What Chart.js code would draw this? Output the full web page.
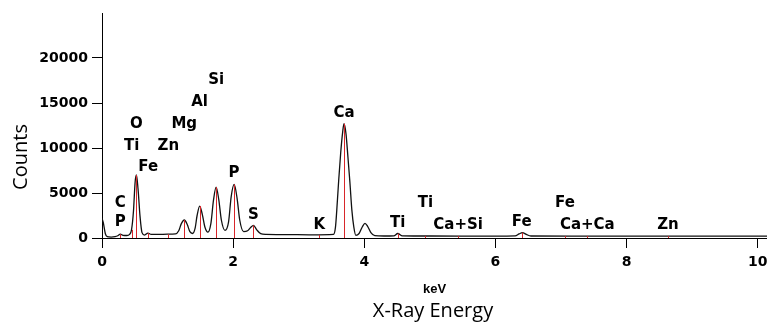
<!DOCTYPE html>
<html>
<head>
<meta charset="utf-8">
<script src="https://cdn.jsdelivr.net/npm/chart.js@4"></script>
<style>
  body { margin: 0; background: #fff; }
  #wrap { width: 767px; height: 331px; }
</style>
</head>
<body>
<div id="wrap"><canvas id="myChart-eds" width="767" height="331"></canvas></div>
<script>
//========== spectrum (keV / counts)
var energy = [0.00, 0.02, 0.05, 0.08, 0.14, 0.20, 0.24, 0.28, 0.32, 0.38,
    0.42, 0.45, 0.48, 0.505, 0.525, 0.55, 0.58, 0.61, 0.65, 0.70,
    0.75, 0.85, 1.00, 1.12, 1.17, 1.21, 1.255, 1.30, 1.34, 1.38,
    1.42, 1.45, 1.49, 1.53, 1.57, 1.615, 1.66, 1.70, 1.74, 1.78,
    1.82, 1.875, 1.93, 1.97, 2.015, 2.06, 2.10, 2.16, 2.22, 2.27,
    2.31, 2.36, 2.42, 2.50, 2.80, 3.20, 3.53, 3.56, 3.58, 3.61,
    3.64, 3.67, 3.69, 3.72, 3.75, 3.78, 3.81, 3.84, 3.87, 3.92,
    3.97, 4.01, 4.05, 4.10, 4.16, 4.30, 4.45, 4.51, 4.58, 5.00,
    6.00, 6.30, 6.36, 6.41, 6.47, 6.54, 7.50, 8.50, 10.15];
var counts = [2200, 1700, 500, 150, 100, 150, 250, 420, 300, 280,
    400, 900, 3000, 6200, 7000, 5400, 2400, 600, 330, 550,
    400, 400, 420, 450, 800, 1600, 2000, 1500, 700, 500,
    1100, 2500, 3550, 2600, 1200, 650, 1600, 4200, 5650, 4300,
    2000, 850, 1800, 4600, 5950, 4400, 2000, 700, 800, 1200,
    1400, 900, 480, 400, 380, 350, 400, 1200, 3100, 6500,
    9500, 11800, 12700, 11600, 9000, 6200, 3100, 1200, 300, 500,
    1250, 1630, 1300, 600, 260, 220, 240, 500, 240, 220,
    210, 230, 450, 600, 400, 220, 210, 210, 200];

//========== KLM marker lines
var lineEnergy = [0.277, 0.452, 0.525, 0.705, 1.012, 1.254, 1.487, 1.740, 2.013, 2.307,
    3.313, 3.690, 4.510, 4.931, 5.430, 6.400, 7.060, 7.400, 8.630];
var lineCounts = [420, 900, 7000, 550, 420, 2000, 3550, 5650, 5950, 1400,
    340, 12700, 500, 230, 220, 600, 220, 215, 210];

//========== element tags
var tagNames = ['P', 'C', 'Ti', 'O', 'Fe', 'Zn', 'Mg', 'Al', 'Si', 'P',
    'S', 'K', 'Ca', 'Ti', 'Ti', 'Ca+Si', 'Fe', 'Fe', 'Ca+Ca', 'Zn'];
var tagEnergy = [0.277, 0.277, 0.452, 0.525, 0.705, 1.012, 1.254, 1.487, 1.740, 2.013,
    2.307, 3.313, 3.690, 4.510, 4.931, 5.430, 6.400, 7.060, 7.400, 8.630];
var tagLevel = [1780, 3900, 10200, 12650, 7900, 10200, 12650, 15140, 17550, 7200,
    2550, 1450, 13900, 1630, 3850, 1450, 1800, 3850, 1450, 1450];

var xTicks = [0, 2, 4, 6, 8, 10];
var yTicks = [0, 5000, 10000, 15000, 20000];

var points = [];
for (var i = 0; i < energy.length; i++) {
    points.push({ x: energy[i], y: counts[i] });
}

var spectrumDecor = {
    id: 'spectrumDecor',
    afterDatasetsDraw: function (chart) {
        var ctx = chart.ctx,
            xs = chart.scales.x,
            ys = chart.scales.y;
        ctx.save();

        // red marker lines
        ctx.strokeStyle = '#d8262a';
        ctx.lineWidth = 1;
        for (var i = 0; i < lineEnergy.length; i++) {
            var px = Math.round(xs.getPixelForValue(lineEnergy[i])) + 0.5;
            ctx.beginPath();
            ctx.moveTo(px, ys.getPixelForValue(0));
            ctx.lineTo(px, ys.getPixelForValue(lineCounts[i]));
            ctx.stroke();
        }

        // element names
        ctx.fillStyle = '#000';
        ctx.font = 'bold 15px "DejaVu Sans"';
        ctx.textAlign = 'center';
        ctx.textBaseline = 'middle';
        for (var j = 0; j < tagNames.length; j++) {
            ctx.fillText(tagNames[j], xs.getPixelForValue(tagEnergy[j]), ys.getPixelForValue(tagLevel[j]));
        }

        // outer captions
        ctx.font = '20px "Open Sans"';
        ctx.fillText('X-Ray Energy', 433, 311);
        ctx.translate(21, 157);
        ctx.rotate(-Math.PI / 2);
        ctx.fillText('Counts', 0, 0);
        ctx.restore();
    }
};

new Chart(document.getElementById('myChart-eds'), {
    type: 'line',
    data: {
        datasets: [{
            data: points,
            borderColor: '#111',
            borderWidth: 1.3,
            pointRadius: 0,
            cubicInterpolationMode: 'monotone',
            fill: false
        }]
    },
    plugins: [spectrumDecor],
    options: {
        responsive: false,
        animation: false,
        devicePixelRatio: 1,
        layout: { padding: { top: 13, right: 0, left: 0, bottom: 0 } },
        plugins: {
            legend: { display: false },
            tooltip: { enabled: false }
        },
        scales: {
            x: {
                type: 'linear',
                min: 0,
                max: 10.14,
                afterBuildTicks: function (scale) {
                    scale.ticks = xTicks.map(function (v) { return { value: v }; });
                },
                afterFit: function (scale) {
                    scale.height = 93;
                    scale.paddingLeft = 0;
                    scale.paddingRight = 0;
                },
                grid: { drawOnChartArea: false, color: '#000', tickLength: 10 },
                border: { color: '#000', width: 1 },
                ticks: {
                    color: '#000',
                    padding: 6,
                    maxRotation: 0,
                    callback: function (v) { return String(v); },
                    font: { family: 'DejaVu Sans', weight: 'bold', size: 14 }
                },
                title: {
                    display: true,
                    text: 'keV',
                    color: '#000',
                    font: { family: 'Liberation Sans', weight: 'bold', size: 13 },
                    padding: { top: 0, bottom: 34 }
                }
            },
            y: {
                min: 0,
                max: 25000,
                afterBuildTicks: function (scale) {
                    scale.ticks = yTicks.map(function (v) { return { value: v }; });
                },
                afterFit: function (scale) {
                    scale.width = 102;
                    scale.paddingTop = 0;
                    scale.paddingBottom = 0;
                },
                grid: { drawOnChartArea: false, color: '#000', tickLength: 10 },
                border: { color: '#000', width: 1 },
                ticks: {
                    color: '#000',
                    padding: 4,
                    callback: function (v) { return String(v); },
                    font: { family: 'DejaVu Sans', weight: 'bold', size: 14 }
                }
            }
        }
    }
});
</script>
</body>
</html>
